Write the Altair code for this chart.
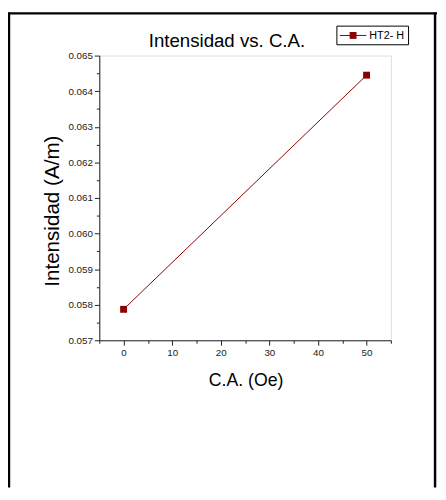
import altair as alt
import pandas as pd

# data
ca_values = [0, 50]
intensidad = [0.05787, 0.06445]
series_name = ["HT2- H", "HT2- H"]
chart_title = ["Intensidad vs. C.A."]

x_ticks = [-5, 0, 5, 10, 15, 20, 25, 30, 35, 40, 45, 50, 55]
y_ticks = [0.057, 0.0575, 0.058, 0.0585, 0.059, 0.0595, 0.060, 0.0605, 0.061,
           0.0615, 0.062, 0.0625, 0.063, 0.0635, 0.064, 0.0645, 0.065]

df = pd.DataFrame({"ca": ca_values, "int": intensidad, "serie": series_name})
one = pd.DataFrame({"serie": series_name[:1], "titulo": chart_title})

FONT = "Liberation Sans"
RED = "#8b0000"

y_major = "abs(datum.value*1000 - round(datum.value*1000)) < 0.001"
x_major = "abs(datum.value % 10) < 0.001"

x_enc = alt.X(
    "ca:Q",
    scale=alt.Scale(domain=[-5, 55], nice=False, zero=False),
    axis=alt.Axis(
        title="C.A. (Oe)",
        values=x_ticks,
        labelExpr=f"{x_major} ? datum.label : ''",
        tickSize={"condition": {"test": x_major, "value": 5}, "value": 3},
        grid=False,
        domainColor="#222222",
        tickColor="#222222",
        labelColor="#222222",
        labelFont=FONT,
        labelFontSize=10,
        labelPadding=3,
        titleFont=FONT,
        titleFontSize=18,
        titleFontWeight="normal",
        titleColor="black",
        titleX=149,
        titleY=41,
        titleBaseline="middle",
        titleAlign="center",
    ),
)

y_enc = alt.Y(
    "int:Q",
    scale=alt.Scale(domain=[0.057, 0.065], nice=False, zero=False),
    axis=alt.Axis(
        title="Intensidad (A/m)",
        values=y_ticks,
        labelExpr=f"{y_major} ? format(datum.value, '.3f') : ''",
        tickSize={"condition": {"test": y_major, "value": 5}, "value": 3},
        grid=False,
        domainColor="#222222",
        tickColor="#222222",
        labelColor="#222222",
        labelFont=FONT,
        labelFontSize=10,
        labelPadding=2,
        titleFont=FONT,
        titleFontSize=21,
        titleFontWeight="normal",
        titleColor="black",
        titleAngle=270,
        titleX=-48,
        titleY=158,
        titleBaseline="middle",
        titleAlign="center",
    ),
)

line = alt.Chart(df).mark_line(strokeWidth=1, color=RED).encode(x=x_enc, y=y_enc)
pts = alt.Chart(df).mark_point(
    shape="square", filled=True, size=49, opacity=1, color=RED
).encode(x=x_enc, y=y_enc)

# chart title as a text mark
title_txt = alt.Chart(one).mark_text(
    font=FONT, fontSize=19, color="black", align="center", baseline="alphabetic"
).encode(x=alt.value(130), y=alt.value(-9), text="titulo:N")

# legend box drawn by hand
leg_box = alt.Chart(one).mark_rect(fill="white", stroke="black", strokeWidth=1).encode(
    x=alt.value(242), x2=alt.value(315), y=alt.value(-30), y2=alt.value(-11)
)
leg_line = alt.Chart(one).mark_rule(color=RED, strokeWidth=1).encode(
    x=alt.value(245), x2=alt.value(272), y=alt.value(-20.5)
)
leg_pt = alt.Chart(one).mark_point(
    shape="square", filled=True, size=49, opacity=1, color=RED
).encode(x=alt.value(258.5), y=alt.value(-20.5))
leg_txt = alt.Chart(one).mark_text(
    font=FONT, fontSize=11, color="black", align="left", baseline="middle"
).encode(x=alt.value(275), y=alt.value(-20), text="serie:N")

frame_style = dict(color="black", strokeWidth=2.5)
left_frame = alt.Chart(one).mark_rule(**frame_style).encode(
    x=alt.value(-92), y=alt.value(-44), y2=alt.value(440)
)
right_frame = alt.Chart(one).mark_rule(**frame_style).encode(
    x=alt.value(342), y=alt.value(-44), y2=alt.value(440)
)
top_frame = alt.Chart(one).mark_rule(**frame_style).encode(
    x=alt.value(-93), x2=alt.value(344), y=alt.value(-43)
)

chart = (
    alt.layer(line, pts, title_txt, leg_box, leg_line, leg_pt, leg_txt,
              left_frame, right_frame, top_frame)
    .properties(
        width=297,
        height=290,
        autosize=alt.AutoSizeParams(type="none"),
        padding={"left": 93, "top": 44, "right": 48, "bottom": 146},
    )
    .configure_view(stroke=None)
    .configure(background="white")
)

chart.save("out.html", embed_options={"renderer": "svg", "actions": False})
